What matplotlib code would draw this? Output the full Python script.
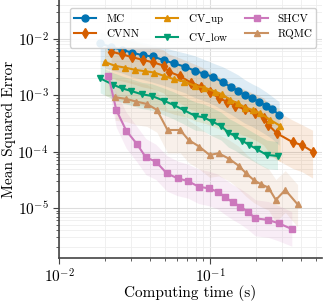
import numpy as np
import matplotlib
matplotlib.use('Agg')
import matplotlib.pyplot as plt

plt.rcParams['font.family'] = ['cmr10', 'DejaVu Serif']
plt.rcParams['mathtext.fontset'] = 'cm'
plt.rcParams['axes.formatter.use_mathtext'] = True

# --- data ---
mc_t = [0.0187, 0.0221, 0.0259, 0.0306, 0.0358, 0.0417, 0.0491, 0.0572, 0.0683, 0.0796, 0.0913,
        0.105, 0.121, 0.137, 0.153, 0.169, 0.189, 0.209, 0.234, 0.256, 0.286]
mc_err = [8.3e-3, 7.2e-3, 6.4e-3, 5.7e-3, 5.1e-3, 4.9e-3, 4.2e-3, 3.7e-3, 3.2e-3, 2.7e-3, 2.4e-3,
          2.1e-3, 1.7e-3, 1.4e-3, 1.2e-3, 1.0e-3, 8.9e-4, 7.7e-4, 6.5e-4, 5.7e-4, 4.5e-4]
mc_hi = [1.3e-2, 1.2e-2, 1.05e-2, 9.5e-3, 8.6e-3, 7.8e-3, 7.0e-3, 6.3e-3, 5.6e-3, 5.0e-3, 4.3e-3,
         3.7e-3, 3.2e-3, 2.7e-3, 2.3e-3, 1.9e-3, 1.6e-3, 1.4e-3, 1.15e-3, 9.6e-4, 7.7e-4]
mc_lo = [3.2e-3, 2.8e-3, 2.5e-3, 2.1e-3, 1.9e-3, 1.7e-3, 1.5e-3, 1.3e-3, 1.1e-3, 9.0e-4, 8.0e-4,
         6.8e-4, 5.5e-4, 4.6e-4, 3.8e-4, 3.2e-4, 2.8e-4, 2.4e-4, 2.0e-4, 1.7e-4, 1.3e-4]

cvnn_t = [0.0221, 0.0259, 0.0306, 0.0358, 0.0417, 0.0491, 0.0530, 0.0627, 0.0745, 0.0868, 0.100,
          0.114, 0.129, 0.146, 0.171, 0.199, 0.226, 0.243, 0.276, 0.353, 0.405, 0.476]
cvnn_err = [5.96e-3, 5.34e-3, 4.73e-3, 4.24e-3, 3.85e-3, 3.36e-3, 2.63e-3, 2.20e-3, 1.68e-3, 1.43e-3, 1.16e-3,
            8.85e-4, 7.72e-4, 6.47e-4, 5.64e-4, 4.79e-4, 3.91e-4, 2.97e-4, 2.12e-4, 1.46e-4, 1.31e-4, 1.00e-4]
cvnn_hi = [1.1e-2, 1.0e-2, 9.0e-3, 8.0e-3, 7.2e-3, 6.4e-3, 5.4e-3, 4.6e-3, 3.8e-3, 3.2e-3, 2.6e-3,
           2.1e-3, 1.8e-3, 1.5e-3, 1.25e-3, 1.05e-3, 9.0e-4, 7.0e-4, 5.2e-4, 3.6e-4, 3.0e-4, 2.4e-4]
cvnn_lo = [2.0e-3, 1.8e-3, 1.6e-3, 1.4e-3, 1.3e-3, 1.1e-3, 8.8e-4, 7.3e-4, 5.6e-4, 4.8e-4, 3.9e-4,
           3.0e-4, 2.6e-4, 2.2e-4, 1.9e-4, 1.6e-4, 1.3e-4, 1.0e-4, 7.2e-5, 5.0e-5, 4.4e-5, 3.4e-5]

cvup_t = [0.0200, 0.0235, 0.0272, 0.0319, 0.0371, 0.0426, 0.0496, 0.0578, 0.0676, 0.0796, 0.0913,
          0.108, 0.120, 0.136, 0.152, 0.171, 0.191, 0.214, 0.250, 0.291]
cvup_err = [3.91e-3, 3.32e-3, 3.10e-3, 2.82e-3, 2.67e-3, 2.53e-3, 2.20e-3, 1.92e-3, 1.75e-3, 1.46e-3, 1.37e-3,
            1.16e-3, 1.04e-3, 8.26e-4, 7.21e-4, 6.04e-4, 5.49e-4, 4.79e-4, 3.65e-4, 2.86e-4]
cvup_hi = [8.0e-3, 7.0e-3, 6.4e-3, 5.8e-3, 5.4e-3, 5.0e-3, 4.4e-3, 3.9e-3, 3.5e-3, 3.0e-3, 2.7e-3,
           2.3e-3, 2.0e-3, 1.65e-3, 1.4e-3, 1.2e-3, 1.05e-3, 9.0e-4, 7.0e-4, 5.6e-4]
cvup_lo = [1.0e-3, 8.5e-4, 7.8e-4, 7.0e-4, 6.5e-4, 6.0e-4, 5.3e-4, 4.6e-4, 4.2e-4, 3.5e-4, 3.2e-4,
           2.7e-4, 2.4e-4, 1.9e-4, 1.7e-4, 1.4e-4, 1.25e-4, 1.1e-4, 8.5e-5, 6.6e-5]

cvlow_t = [0.0187, 0.0229, 0.0260, 0.0300, 0.0353, 0.0411, 0.0491, 0.0572, 0.0666, 0.0796,
           0.0904, 0.103, 0.118, 0.132, 0.146, 0.162, 0.182, 0.204, 0.237, 0.279]
cvlow_err = [2.00e-3, 1.53e-3, 1.33e-3, 1.19e-3, 1.04e-3, 9.73e-4, 8.04e-4, 6.74e-4, 5.49e-4, 4.30e-4,
             4.07e-4, 3.41e-4, 2.86e-4, 2.17e-4, 1.90e-4, 1.57e-4, 1.31e-4, 1.10e-4, 8.73e-5, 8.38e-5]
cvlow_hi = [3.2e-3, 2.5e-3, 2.2e-3, 1.95e-3, 1.7e-3, 1.6e-3, 1.35e-3, 1.15e-3, 9.5e-4, 7.6e-4,
            7.0e-4, 6.0e-4, 5.0e-4, 3.9e-4, 3.4e-4, 2.9e-4, 2.4e-4, 2.0e-4, 1.6e-4, 1.5e-4]
cvlow_lo = [1.1e-3, 8.5e-4, 7.4e-4, 6.6e-4, 5.8e-4, 5.4e-4, 4.5e-4, 3.8e-4, 3.1e-4, 2.4e-4,
            2.3e-4, 1.9e-4, 1.6e-4, 1.2e-4, 1.05e-4, 8.8e-5, 7.4e-5, 6.2e-5, 5.0e-5, 4.8e-5]

shcv_t = [0.0212, 0.0239, 0.0278, 0.0327, 0.0375, 0.0437, 0.0516, 0.0608, 0.0711, 0.0837,
          0.0975, 0.112, 0.126, 0.141, 0.158, 0.177, 0.199, 0.243, 0.284, 0.347]
shcv_err = [2.23e-3, 5.49e-4, 2.36e-4, 1.37e-4, 7.93e-5, 6.64e-5, 4.12e-5, 3.36e-5, 3.01e-5, 2.39e-5,
            2.23e-5, 1.95e-5, 1.55e-5, 1.26e-5, 1.06e-5, 8.61e-6, 6.56e-6, 6.12e-6, 5.34e-6, 4.24e-6]
shcv_hi = [3.2e-3, 1.1e-3, 5.0e-4, 2.8e-4, 1.7e-4, 1.35e-4, 8.5e-5, 6.8e-5, 6.0e-5, 4.9e-5,
           4.5e-5, 4.0e-5, 3.2e-5, 2.6e-5, 2.2e-5, 1.8e-5, 1.4e-5, 1.3e-5, 1.1e-5, 8.6e-6]
shcv_lo = [1.4e-3, 2.7e-4, 1.15e-4, 6.6e-5, 3.9e-5, 3.2e-5, 2.0e-5, 1.65e-5, 1.5e-5, 1.2e-5,
           1.1e-5, 9.6e-6, 7.6e-6, 6.2e-6, 5.2e-6, 4.2e-6, 3.2e-6, 3.0e-6, 2.6e-6, 2.1e-6]

rqmc_t = [0.0235, 0.0278, 0.0324, 0.0381, 0.0444, 0.0522, 0.0633, 0.0719, 0.0846, 0.0990,
          0.114, 0.134, 0.154, 0.173, 0.194, 0.217, 0.243, 0.272, 0.314, 0.379]
rqmc_err = [9.22e-4, 8.61e-4, 7.72e-4, 7.02e-4, 5.49e-4, 2.42e-4, 2.42e-4, 1.61e-4, 1.23e-4, 8.73e-5,
            9.34e-5, 7.41e-5, 5.64e-5, 4.12e-5, 3.14e-5, 2.63e-5, 2.30e-5, 1.39e-5, 2.09e-5, 1.16e-5]
rqmc_hi = [2.0e-3, 1.9e-3, 1.7e-3, 1.55e-3, 1.2e-3, 5.5e-4, 5.3e-4, 3.6e-4, 2.7e-4, 1.95e-4,
           2.0e-4, 1.6e-4, 1.25e-4, 9.0e-5, 7.0e-5, 5.8e-5, 5.0e-5, 3.2e-5, 4.6e-5, 2.6e-5]
rqmc_lo = [3.6e-4, 3.4e-4, 3.0e-4, 2.8e-4, 2.2e-4, 9.5e-5, 9.5e-5, 6.4e-5, 4.9e-5, 3.5e-5,
           3.7e-5, 3.0e-5, 2.2e-5, 1.6e-5, 1.25e-5, 1.05e-5, 9.2e-6, 5.6e-6, 8.4e-6, 4.6e-6]

series = [
    ('MC', mc_t, mc_err, mc_lo, mc_hi, '#0173B2', 'o'),
    ('CVNN', cvnn_t, cvnn_err, cvnn_lo, cvnn_hi, '#D55E00', 'd'),
    ('CV$\\_$up', cvup_t, cvup_err, cvup_lo, cvup_hi, '#DE8F05', '^'),
    ('CV$\\_$low', cvlow_t, cvlow_err, cvlow_lo, cvlow_hi, '#029E73', 'v'),
    ('SHCV', shcv_t, shcv_err, shcv_lo, shcv_hi, '#CC78BC', 's'),
    ('RQMC', rqmc_t, rqmc_err, rqmc_lo, rqmc_hi, '#CA9161', '^'),
]

fig = plt.figure(figsize=(3.23, 3.02), dpi=100)
ax = fig.add_axes([0.183, 0.146, 0.814, 0.854])

for name, t, err, lo, hi, col, mk in series:
    ax.fill_between(t, lo, hi, color=col, alpha=0.13, linewidth=0)
    ax.plot(t, err, color=col, marker=mk, markersize=5, linewidth=1.5, label=name)

ax.set_xscale('log')
ax.set_yscale('log')
ax.set_xlim(0.01, 0.55)
ax.set_ylim(1.3e-6, 0.049)

ax.grid(True, which='major', color='#dddddd', linewidth=0.8)
ax.grid(True, which='minor', color='#eeeeee', linewidth=0.6)
ax.set_axisbelow(True)

for side in ['top', 'right']:
    ax.spines[side].set_visible(False)
for side in ['left', 'bottom']:
    ax.spines[side].set_color('#444444')
    ax.spines[side].set_linewidth(1.2)
ax.tick_params(which='both', colors='#444444', labelcolor='black', labelsize=11)
ax.tick_params(which='major', length=4)
ax.tick_params(which='minor', length=2.5)
ax.tick_params(axis='x', which='major', pad=2.5)

ax.set_xlabel('Computing time (s)', fontsize=11, labelpad=0)
ax.set_ylabel('Mean Squared Error', fontsize=11, labelpad=1)

ax.legend(ncol=3, loc='upper right', bbox_to_anchor=(1.0, 0.99), fontsize=8,
          handlelength=2.0, columnspacing=1.5, handletextpad=0.9, borderpad=0.35,
          labelspacing=0.45, framealpha=0.9, edgecolor='#cccccc')

fig.savefig('out.png', dpi=100)
